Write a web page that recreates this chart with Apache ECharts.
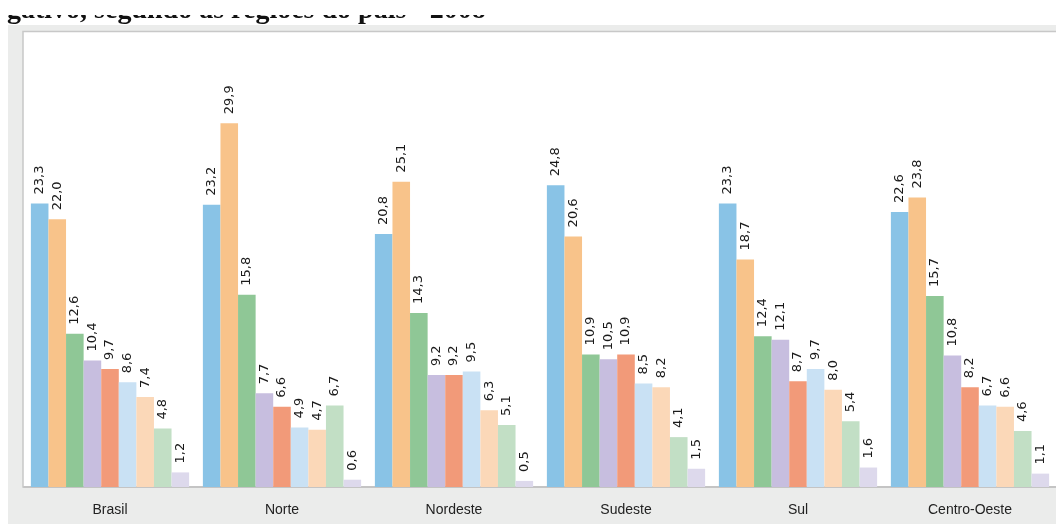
<!DOCTYPE html>
<html>
<head>
<meta charset="utf-8">
<script src="https://cdn.jsdelivr.net/npm/echarts@6/dist/echarts.min.js"></script>
<style>
html,body{margin:0;padding:0;background:#fff;overflow:hidden;}
#c{width:1056px;height:524px;}
</style>
</head>
<body>
<div id="c"></div>
<script>
const categories = ['Brasil', 'Norte', 'Nordeste', 'Sudeste', 'Sul', 'Centro-Oeste'];
const s1 = [23.3, 23.2, 20.8, 24.8, 23.3, 22.6];
const s2 = [22.0, 29.9, 25.1, 20.6, 18.7, 23.8];
const s3 = [12.6, 15.8, 14.3, 10.9, 12.4, 15.7];
const s4 = [10.4, 7.7, 9.2, 10.5, 12.1, 10.8];
const s5 = [9.7, 6.6, 9.2, 10.9, 8.7, 8.2];
const s6 = [8.6, 4.9, 9.5, 8.5, 9.7, 6.7];
const s7 = [7.4, 4.7, 6.3, 8.2, 8.0, 6.6];
const s8 = [4.8, 6.7, 5.1, 4.1, 5.4, 4.6];
const s9 = [1.2, 0.6, 0.5, 1.5, 1.6, 1.1];
const seriesData = [s1, s2, s3, s4, s5, s6, s7, s8, s9];
const colors = ['#89c3e6', '#f8c38a', '#8fc796', '#c7bedf', '#f29a79', '#c9e1f4', '#fbd8b8', '#c2dfc5', '#ddd9ec'];
const titleText = 'gativo, segundo as regiões do país - 2008';

const chart = echarts.init(document.getElementById('c'), null, {renderer: 'canvas'});
const series = seriesData.map((d, i) => ({
  type: 'bar',
  data: d,
  z: 60,
  barGap: '0%',
  barCategoryGap: '8%',
  itemStyle: {color: colors[i]},
  label: {
    show: true,
    position: 'top',
    rotate: 90,
    align: 'left',
    verticalAlign: 'middle',
    distance: 9,
    fontFamily: 'DejaVu Sans',
    fontSize: 13,
    color: '#1a1a1a',
    formatter: p => p.value.toFixed(1).replace('.', ',')
  }
}));

chart.setOption({
  animation: false,
  backgroundColor: '#ffffff',
  title: {
    text: titleText,
    left: 7,
    top: -3,
    padding: 0,
    z: 1,
    textStyle: {fontFamily: 'Liberation Serif', fontWeight: 'bold', fontSize: 28, color: '#111', lineHeight: 28}
  },
  graphic: [
    {type: 'rect', z: 100, silent: true, shape: {x: 0, y: 0, width: 1056, height: 15}, style: {fill: '#ffffff'}},
    {type: 'rect', z: 51, shape: {x: 8, y: 25, width: 1100, height: 520}, style: {fill: '#ebeceb'}},
    {type: 'rect', z: 52, shape: {x: 23, y: 31.5, width: 1100, height: 455.5}, style: {fill: '#ffffff', stroke: '#c8c8c8', lineWidth: 1.5}}
  ],
  grid: {left: 24, right: -6, top: 32, bottom: 37, containLabel: false, z: 60},
  xAxis: {
    type: 'category',
    data: categories,
    z: 60,
    axisLine: {lineStyle: {color: '#c4c4c4', width: 2}},
    axisTick: {show: false},
    axisLabel: {fontFamily: 'Liberation Sans', fontSize: 14, color: '#222', margin: 16}
  },
  yAxis: {
    type: 'value',
    min: 0,
    max: 37.4,
    show: false,
    splitLine: {show: false}
  },
  series: series
});
</script>
</body>
</html>
